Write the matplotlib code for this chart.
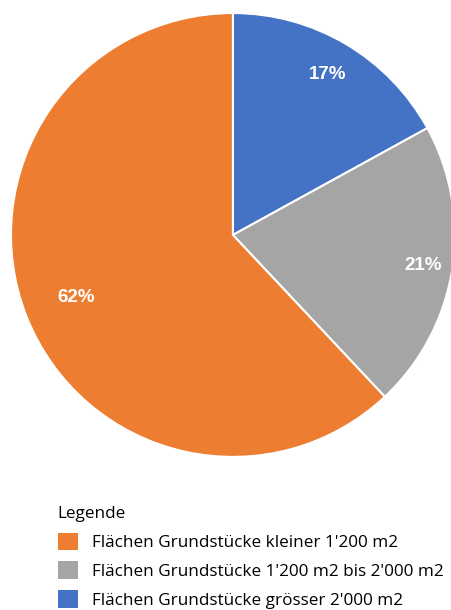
import numpy as np
import matplotlib.pyplot as plt
from matplotlib.patches import Patch

labels = ["Flächen Grundstücke grösser 2'000 m2",
          "Flächen Grundstücke 1'200 m2 bis 2'000 m2",
          "Flächen Grundstücke kleiner 1'200 m2"]
values = [17, 21, 62]
colors = ['#4472C4', '#A5A5A5', '#ED7D31']
label_dist = [0.84, 0.87, 0.76]

fig = plt.figure(figsize=(4.52, 6.10), dpi=100)
ax = fig.add_axes([0.0243, 0.2508, 0.982, 0.728])

wedges, texts = ax.pie(
    values, colors=colors, startangle=90, counterclock=False,
    wedgeprops={'edgecolor': 'white', 'linewidth': 1.5})
for w, v, d in zip(wedges, values, label_dist):
    ang = np.deg2rad((w.theta1 + w.theta2) / 2)
    ax.text(d * np.cos(ang), d * np.sin(ang), f'{v}%', ha='center', va='center',
            color='white', fontweight='bold', fontsize=13.5, family='Liberation Sans')
ax.set_xlim(-1, 1)
ax.set_ylim(-1, 1)
ax.set_aspect('equal')

# legend order: orange, gray, blue
handles = [Patch(facecolor=colors[i], edgecolor='none') for i in [2, 1, 0]]
leg = fig.legend(handles, [labels[i] for i in [2, 1, 0]], title='Legende',
                 loc='upper left', bbox_to_anchor=(0.109, 0.184),
                 frameon=False, prop={'family': 'Open Sans', 'size': 12.3},
                 title_fontproperties={'family': 'Open Sans', 'size': 12.3},
                 handlelength=1.2, handleheight=1.2, handletextpad=0.8,
                 labelspacing=0.6, alignment='left', borderpad=0)

fig.savefig('out.png', dpi=100)
